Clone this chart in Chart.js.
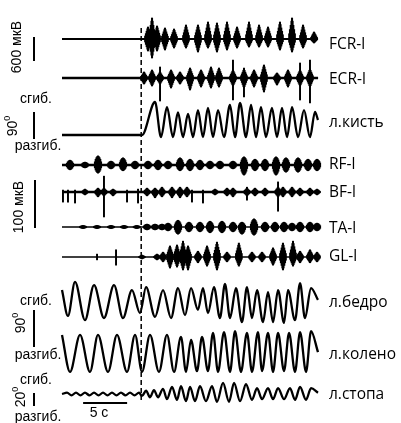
<!DOCTYPE html>
<html>
<head>
<meta charset="utf-8">
<script src="https://cdn.jsdelivr.net/npm/chart.js@4.4.0/dist/chart.umd.min.js"></script>
<style>
  html, body { margin: 0; padding: 0; background: #fff; }
  #wrap { width: 401px; height: 423px; }
</style>
</head>
<body>
<div id="wrap"><canvas id="chart" width="401" height="423"></canvas></div>
<script>
// recording length and onset of the voluntary wrist movement, s
const DURATION = 29.1;
const ONSET = 9.0;

// EMG bursts: [time s, amplitude up µV, amplitude down µV]
const fcrBursts = [
    [9.77, 300, 300], [10.23, 525, 475], [10.8, 325, 300], [11.70, 275, 275], [12.73, 250, 225],
    [14.09, 350, 225], [15.45, 350, 325], [16.59, 425, 225], [17.61, 400, 325], [18.75, 425, 275],
    [19.89, 300, 225], [21.25, 425, 200], [22.39, 350, 200], [23.41, 300, 200], [24.77, 425, 275],
    [26.14, 525, 325], [27.39, 350, 225], [28.64, 175, 100]
];
const ecrBursts = [
    [9.32, 150, 150], [10.23, 200, 200], [11.14, 150, 150], [12.39, 200, 250], [13.41, 150, 150],
    [14.55, 250, 300], [15.80, 200, 225], [16.93, 275, 250], [17.84, 250, 225], [19.43, 200, 200],
    [20.68, 225, 250], [21.82, 200, 225], [22.95, 325, 350], [24.43, 125, 175], [25.68, 200, 225],
    [27.05, 200, 200], [28.18, 225, 225]
];
const ecrSpikes = [[11.14, 275, 575], [19.43, 450, 550], [20.68, 250, 475], [27.05, 375, 550], [28.18, 450, 625]];

const rfBursts = [
    [0.91, 10, 10], [2.61, 6, 6], [4.09, 19, 17], [5.57, 8, 8], [6.93, 15, 12], [8.30, 8, 8],
    [9.77, 8, 8], [10.91, 10, 10], [12.05, 8, 8], [13.41, 15, 12], [14.55, 12, 12], [15.68, 10, 10],
    [16.82, 8, 8], [17.95, 8, 8], [19.43, 8, 8], [20.68, 17, 21], [21.93, 12, 12], [23.07, 12, 12],
    [24.32, 17, 21], [25.45, 15, 15], [26.82, 15, 15], [27.95, 12, 12], [28.98, 12, 12]
];
const bfBursts = [
    [2.61, 6, 6], [4.09, 8, 10], [4.77, 8, 8], [5.80, 6, 8], [9.66, 8, 8], [10.57, 8, 12],
    [11.36, 10, 10], [12.50, 10, 12], [13.41, 10, 12], [14.20, 10, 10], [17.39, 6, 6], [18.75, 8, 8],
    [19.43, 8, 10], [21.02, 8, 8], [21.93, 8, 8], [23.07, 8, 8], [24.55, 10, 10], [25.11, 10, 10],
    [26.14, 10, 10], [27.05, 8, 8], [28.18, 8, 8], [28.98, 6, 6]
];
const bfSpikes = [
    [0.11, 4, 21], [0.68, 4, 21], [1.48, 4, 23], [4.77, 33, 52], [7.39, 4, 21], [8.64, 6, 23],
    [14.77, 4, 21], [16.02, 4, 23], [21.02, 10, 17], [24.55, 21, 40]
];
const taBursts = [
    [2.39, 3, 3], [3.98, 3, 3], [5.57, 3, 3], [7.05, 3, 3], [8.5, 3, 3],
    [9.66, 6, 6], [10.57, 6, 6], [11.36, 6, 6], [12.05, 8, 8], [13.18, 14, 15], [14.43, 10, 10],
    [15.68, 10, 10], [16.82, 12, 12], [18.18, 12, 12], [19.43, 10, 10], [20.45, 10, 15], [21.82, 17, 17],
    [23.07, 10, 10], [24.20, 10, 10], [25.23, 10, 10], [26.14, 8, 8], [27.05, 10, 10], [28.18, 10, 10],
    [28.98, 8, 8]
];
const glBursts = [
    [9.09, 4, 4], [10.80, 6, 6], [11.48, 10, 10], [12.27, 23, 23], [13.07, 25, 21], [13.75, 33, 27],
    [14.32, 23, 27], [15.45, 12, 12], [16.48, 23, 19], [17.61, 31, 27], [18.75, 10, 10], [20.1, 29, 19],
    [21.59, 10, 10], [22.73, 10, 10], [23.98, 19, 17], [25.11, 29, 27], [26.25, 33, 19], [27.05, 12, 12],
    [28.18, 15, 12], [28.98, 10, 10]
];
const glSpikes = [[3.98, 6, 6], [6.14, 15, 17]];

// joint angles at the turning points: [time s, angle deg]
const wristAngle = [
    [0, 0], [9.09, 0], [10.57, 110], [11.25, -7], [11.93, 93], [12.61, -7], [13.18, 75], [13.75, -7],
    [14.32, 70], [14.89, -7], [15.45, 83], [16.02, -7], [16.59, 90], [17.16, -7], [17.73, 83], [18.41, -7],
    [19.09, 100], [19.66, -7], [20.23, 107], [20.91, -7], [21.48, 100], [22.05, -7], [22.61, 93], [23.18, -7],
    [23.86, 90], [24.43, -7], [25.00, 90], [25.57, -7], [26.14, 93], [26.82, -7], [27.50, 83], [28.18, -7],
    [28.75, 77], [29.09, 50]
];
const hipAngle = [
    [0, 29], [0.68, -34], [1.48, 49], [2.61, -44], [3.64, 41], [4.77, -39], [5.91, 41], [6.93, -39],
    [7.95, 29], [8.86, -27], [9.55, 36], [10.57, -36], [11.48, 29], [12.39, -39], [13.18, 34], [13.98, -32],
    [14.66, 34], [15.45, -19], [16.02, 34], [16.59, -27], [17.27, 36], [17.95, -39], [18.52, 44], [19.09, -39],
    [19.77, 34], [20.45, -49], [21.02, 36], [21.59, -39], [22.16, 29], [22.84, -49], [23.41, 24], [23.98, -49],
    [24.55, 29], [25.23, -51], [25.68, 29], [26.48, -44], [27.05, 46], [27.61, -39], [28.30, 34], [29.09, 5]
];
const kneeAngle = [
    [0, 44], [0.91, -46], [2.05, 44], [3.18, -46], [4.09, 44], [5.23, -46], [6.25, 44], [7.39, -46],
    [8.30, 44], [9.09, -46], [10.00, 44], [11.02, -46], [11.93, 44], [12.73, -46], [13.52, 39], [14.09, -46],
    [14.66, 32], [15.34, -44], [15.91, 39], [16.59, -44], [17.16, 49], [17.73, -46], [18.41, 51], [19.09, -46],
    [19.66, 53], [20.34, -46], [21.02, 49], [21.59, -46], [22.27, 51], [22.73, -44], [23.41, 49], [23.98, -46],
    [24.55, 49], [25.23, -44], [25.80, 49], [26.48, -46], [27.05, 51], [27.73, -46], [28.30, 53], [29.09, 2]
];
const ankleAngle = [
    [0, 0], [0.57, 2], [1.08, -2], [1.59, 2], [2.10, -2], [2.61, 2], [3.13, -2], [3.64, 2], [4.15, -2],
    [4.66, 2], [5.17, -2], [5.68, 2], [6.19, -2], [6.70, 2], [7.22, -2], [7.73, 2], [8.24, -2], [8.75, 2],
    [9.09, -3], [9.55, 5], [10.00, -5], [10.45, 6], [10.91, -5], [11.48, 8], [11.93, -8], [12.50, 11],
    [13.07, -9], [13.52, 12], [14.09, -11], [14.55, 11], [15.11, -11], [15.68, 12], [16.36, -11], [17.05, 12],
    [17.61, -12], [18.30, 17], [18.98, -12], [19.55, 17], [20.23, -11], [20.91, 15], [21.59, -9], [22.16, 9],
    [22.73, -8], [23.41, 9], [23.98, -8], [24.55, 9], [25.23, -8], [25.91, 9], [26.48, -9], [27.05, 11],
    [27.73, -9], [28.30, 9], [29.09, 2]
];

// calibration bars
const emgUpperBar = 600;   // мкВ
const emgLowerBar = 100;   // мкВ
const wristBar = 90;       // deg
const hipKneeBar = 90;
const ankleBar = 20;
const timeBar = 5;         // s

// ---- layout: rows of the canvas (y scale runs 0..423 top to bottom) ----
const PX_PER_S = 8.8;
const X0 = 62;
const tracks = {
    fcr:   { row: 39,  gain: 0.04,  label: 'FCR-l',   labelRow: 45 },
    ecr:   { row: 78,  gain: 0.04,  label: 'ECR-l',   labelRow: 80 },
    wrist: { row: 135, gain: 0.3,   label: 'л.кисть', labelRow: 123 },
    rf:    { row: 165, gain: 0.48,  label: 'RF-l',    labelRow: 165 },
    bf:    { row: 192, gain: 0.48,  label: 'BF-l',    labelRow: 193 },
    ta:    { row: 227, gain: 0.48,  label: 'TA-l',    labelRow: 229 },
    gl:    { row: 257, gain: 0.48,  label: 'GL-l',    labelRow: 257 },
    hip:   { row: 302, gain: 0.411, label: 'л.бедро', labelRow: 303 },
    knee:  { row: 353, gain: 0.411, label: 'л.колено', labelRow: 355 },
    ankle: { row: 394, gain: 0.65,  label: 'л.стопа', labelRow: 395 }
};

function toRow(tr, v) {
    return tr.row - v * tr.gain;
}

function emgDatasets(tr, bursts, spikes, shape, baseWidth) {
    const sets = [{
        type: 'line',
        data: [{ x: 0, y: tr.row }, { x: DURATION, y: tr.row }],
        borderColor: '#000',
        borderWidth: baseWidth,
        pointRadius: 0
    }];
    shape.forEach(([w, f]) => {
        sets.push({
            type: 'bar',
            data: bursts.map(b => ({ x: b[0], y: [toRow(tr, b[1] * f), toRow(tr, -b[2] * f)] })),
            backgroundColor: '#000',
            barThickness: w,
            grouped: false
        });
    });
    if (spikes) {
        sets.push({
            type: 'bar',
            data: spikes.map(b => ({ x: b[0], y: [toRow(tr, b[1]), toRow(tr, -b[2])] })),
            backgroundColor: '#000',
            barThickness: 1.3,
            grouped: false
        });
    }
    return sets;
}

function angleDataset(tr, points) {
    return {
        type: 'line',
        data: points.map(p => ({ x: p[0], y: toRow(tr, p[1]) })),
        borderColor: '#000',
        borderWidth: 2.3,
        pointRadius: 0,
        cubicInterpolationMode: 'monotone'
    };
}

const spindle = [[1.4, 1], [2.5, 0.85], [4, 0.65], [5.5, 0.45], [7, 0.25]];
const blob = [[1.4, 1], [3, 0.92], [4.5, 0.8], [6, 0.62], [7.5, 0.35]];

const datasets = [].concat(
    emgDatasets(tracks.fcr, fcrBursts, null, spindle, 2),
    emgDatasets(tracks.ecr, ecrBursts, ecrSpikes, spindle, 2.5),
    emgDatasets(tracks.rf, rfBursts, null, blob, 2.5),
    emgDatasets(tracks.bf, bfBursts, bfSpikes, spindle, 2.5),
    emgDatasets(tracks.ta, taBursts, null, blob, 1.6),
    emgDatasets(tracks.gl, glBursts, glSpikes, spindle, 1.6),
    [angleDataset(tracks.wrist, wristAngle),
     angleDataset(tracks.hip, hipAngle),
     angleDataset(tracks.knee, kneeAngle),
     angleDataset(tracks.ankle, ankleAngle)]
);

function vText(ctx, txt, x, y) {
    ctx.save();
    ctx.translate(x, y);
    ctx.rotate(-Math.PI / 2);
    ctx.textAlign = 'center';
    ctx.textBaseline = 'middle';
    ctx.fillText(txt, 0, 0);
    ctx.restore();
}

function vDegree(ctx, num, x, y) {
    ctx.save();
    ctx.translate(x, y);
    ctx.rotate(-Math.PI / 2);
    ctx.textBaseline = 'middle';
    ctx.font = '14px "Liberation Sans", Arial, sans-serif';
    const w1 = ctx.measureText(num).width;
    ctx.font = '9px "Liberation Sans", Arial, sans-serif';
    const w2 = ctx.measureText('0').width;
    const x0 = -(w1 + w2) / 2;
    ctx.font = '14px "Liberation Sans", Arial, sans-serif';
    ctx.textAlign = 'left';
    ctx.fillText(num, x0, 0);
    ctx.font = '9px "Liberation Sans", Arial, sans-serif';
    ctx.fillText('0', x0 + w1, -5);
    ctx.restore();
}

const annotations = {
    id: 'annotations',
    beforeDatasetsDraw(chart) {
        const ctx = chart.ctx;
        const xs = chart.scales.x;
        const xp = xs.getPixelForValue(ONSET);
        ctx.save();
        ctx.strokeStyle = '#000';
        ctx.lineWidth = 1.5;
        ctx.setLineDash([5, 3]);
        ctx.beginPath();
        ctx.moveTo(xp, 28);
        ctx.lineTo(xp, 400);
        ctx.stroke();
        ctx.restore();
    },
    afterDatasetsDraw(chart) {
        const ctx = chart.ctx;
        const xs = chart.scales.x;
        const ys = chart.scales.y;
        ctx.save();
        ctx.fillStyle = '#000';
        ctx.strokeStyle = '#000';

        // trace names
        ctx.font = '15.5px "Open Sans", sans-serif';
        ctx.textAlign = 'left';
        ctx.textBaseline = 'middle';
        Object.values(tracks).forEach(tr => {
            ctx.fillText(tr.label, 329, ys.getPixelForValue(tr.labelRow));
        });

        // vertical calibration bars
        ctx.lineWidth = 2;
        const vbar = (x, top, len) => {
            ctx.beginPath();
            ctx.moveTo(x, ys.getPixelForValue(top));
            ctx.lineTo(x, ys.getPixelForValue(top + len));
            ctx.stroke();
        };
        vbar(34, 37, emgUpperBar * tracks.fcr.gain);
        vbar(34, 112, wristBar * tracks.wrist.gain);
        vbar(35, 180, emgLowerBar * tracks.rf.gain);
        vbar(34, 310, hipKneeBar * tracks.hip.gain);
        vbar(34, 393, ankleBar * tracks.ankle.gain);

        // time bar
        const t0 = 2.4;
        ctx.beginPath();
        ctx.moveTo(xs.getPixelForValue(t0), 403);
        ctx.lineTo(xs.getPixelForValue(t0 + timeBar), 403);
        ctx.stroke();

        ctx.font = '14px "Liberation Sans", Arial, sans-serif';
        ctx.textAlign = 'center';
        ctx.fillText(timeBar + ' с', 99, 413);

        ctx.fillText('сгиб.', 36, 99);
        ctx.fillText('разгиб.', 38, 146);
        ctx.fillText('сгиб.', 36, 301);
        ctx.fillText('разгиб.', 38, 355);
        ctx.fillText('сгиб.', 36, 380);
        ctx.fillText('разгиб.', 38, 417);

        vText(ctx, emgUpperBar + ' мкВ', 17, 47);
        vText(ctx, emgLowerBar + ' мкВ', 19, 207);
        vDegree(ctx, String(wristBar), 13, 126);
        vDegree(ctx, String(hipKneeBar), 21, 323);
        vDegree(ctx, String(ankleBar), 21, 397);
        ctx.restore();
    }
};

new Chart(document.getElementById('chart'), {
    type: 'bar',
    data: { datasets: datasets },
    options: {
        responsive: false,
        animation: false,
        devicePixelRatio: 1,
        events: [],
        layout: { padding: 0 },
        plugins: { legend: { display: false }, tooltip: { enabled: false } },
        scales: {
            x: {
                type: 'linear',
                display: false,
                offset: false,
                min: -X0 / PX_PER_S,
                max: (401 - X0) / PX_PER_S
            },
            y: {
                type: 'linear',
                display: false,
                reverse: true,
                min: 0,
                max: 423
            }
        }
    },
    plugins: [annotations]
});
</script>
</body>
</html>
